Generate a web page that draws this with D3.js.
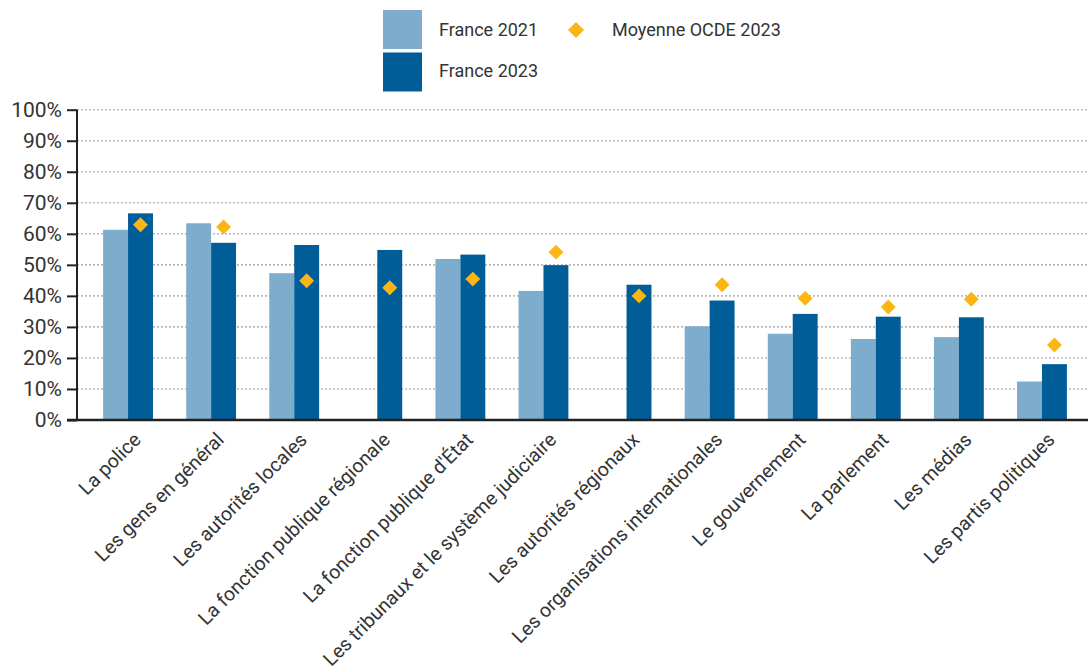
<!DOCTYPE html>
<html>
<head>
<meta charset="utf-8">
<script src="https://cdn.jsdelivr.net/npm/d3@7"></script>
<style>
  html, body { margin: 0; padding: 0; background: #fff; }
  svg { display: block; }
  text { font-family: Roboto, "Liberation Sans", Arial, sans-serif; fill: #333; }
</style>
</head>
<body>
<svg id="chart" width="1090" height="671"></svg>
<script>
const categories = ["La police", "Les gens en général", "Les autorités locales", "La fonction publique régionale", "La fonction publique d'État", "Les tribunaux et le système judiciaire", "Les autorités régionaux", "Les organisations internationales", "Le gouvernement", "La parlement", "Les médias", "Les partis politiques"];
const france2021 = [61.3, 63.4, 47.3, null, 51.9, 41.6, null, 30.2, 27.8, 26.1, 26.7, 12.4];
const france2023 = [66.6, 57.1, 56.4, 54.8, 53.3, 49.9, 43.6, 38.5, 34.2, 33.3, 33.1, 18.0];
const oecd2023 = [62.9, 62.2, 44.9, 42.6, 45.4, 54.1, 40.0, 43.6, 39.2, 36.4, 38.9, 24.2];
const yTicks = [0, 10, 20, 30, 40, 50, 60, 70, 80, 90, 100];
const seriesNames = ["France 2021", "France 2023", "Moyenne OCDE 2023"];

const colLight = "#7eaccd";
const colDark = "#005d98";
const colDiamond = "#fbb614";

const svg = d3.select("#chart");
const axisX = 77, plotRight = 1088, y0 = 420, y100 = 109.7;

const x = d3.scaleBand().domain(categories).range([86.5, 1083.5]).paddingInner(0.4).paddingOuter(0.2);
const y = d3.scaleLinear().domain([0, 100]).range([y0, y100]);
const bw = x.bandwidth() / 2;

// gridlines
svg.append("g").selectAll("line").data(yTicks.filter(d => d > 0)).join("line")
  .attr("x1", axisX).attr("x2", plotRight)
  .attr("y1", d => y(d)).attr("y2", d => y(d))
  .attr("stroke", "#b8b8b8").attr("stroke-width", 1.6).attr("stroke-dasharray", "2,2");

// bars
const rows = categories.map((c, i) => ({ c, a: france2021[i], b: france2023[i], o: oecd2023[i] }));
svg.append("g").selectAll("rect").data(rows.filter(d => d.a != null)).join("rect")
  .attr("x", d => x(d.c)).attr("width", bw)
  .attr("y", d => y(d.a)).attr("height", d => y0 - y(d.a))
  .attr("fill", colLight);
svg.append("g").selectAll("rect").data(rows).join("rect")
  .attr("x", d => x(d.c) + bw).attr("width", bw)
  .attr("y", d => y(d.b)).attr("height", d => y0 - y(d.b))
  .attr("fill", colDark);

// diamonds
const diamond = d3.symbol().type(d3.symbolSquare).size(112);
svg.append("g").selectAll("path").data(rows).join("path")
  .attr("d", diamond)
  .attr("transform", d => `translate(${x(d.c) + bw * 1.5},${y(d.o)}) rotate(45)`)
  .attr("fill", colDiamond);

// y axis
const yAxis = d3.axisLeft(y).tickValues(yTicks).tickSize(10).tickPadding(5).tickFormat(d => d + "%");
const gy = svg.append("g").attr("transform", `translate(${axisX},0)`).call(yAxis);
gy.select(".domain").attr("stroke", "#222").attr("stroke-width", 2).attr("d", `M0,${y100}V${y0}`);
gy.selectAll(".tick line").attr("stroke", "#222").attr("stroke-width", 2);
gy.selectAll(".tick text").attr("font-size", 21).attr("fill", "#333").style("font-family", "Roboto, 'Liberation Sans', Arial, sans-serif");

// baseline
svg.append("line").attr("x1", 67).attr("x2", plotRight).attr("y1", y0).attr("y2", y0)
  .attr("stroke", "#222").attr("stroke-width", 2.5);

// x labels
svg.append("g").selectAll("text").data(categories).join("text")
  .attr("transform", d => `translate(${x(d) + x.bandwidth() / 2 + 14},441) rotate(-45)`)
  .attr("text-anchor", "end").attr("font-size", 19.5)
  .text(d => d);

// legend
const lg = svg.append("g");
lg.append("rect").attr("x", 383).attr("y", 10).attr("width", 39).attr("height", 39).attr("fill", colLight);
lg.append("rect").attr("x", 383).attr("y", 52.5).attr("width", 39).attr("height", 39).attr("fill", colDark);
lg.append("text").attr("x", 439).attr("y", 30).attr("dy", "0.35em").attr("font-size", 18).text(seriesNames[0]);
lg.append("text").attr("x", 439).attr("y", 71).attr("dy", "0.35em").attr("font-size", 18).text(seriesNames[1]);
lg.append("path").attr("d", d3.symbol().type(d3.symbolSquare).size(128))
  .attr("transform", "translate(576,30) rotate(45)").attr("fill", colDiamond);
lg.append("text").attr("x", 612).attr("y", 30).attr("dy", "0.35em").attr("font-size", 18).text(seriesNames[2]);
</script>
</body>
</html>
